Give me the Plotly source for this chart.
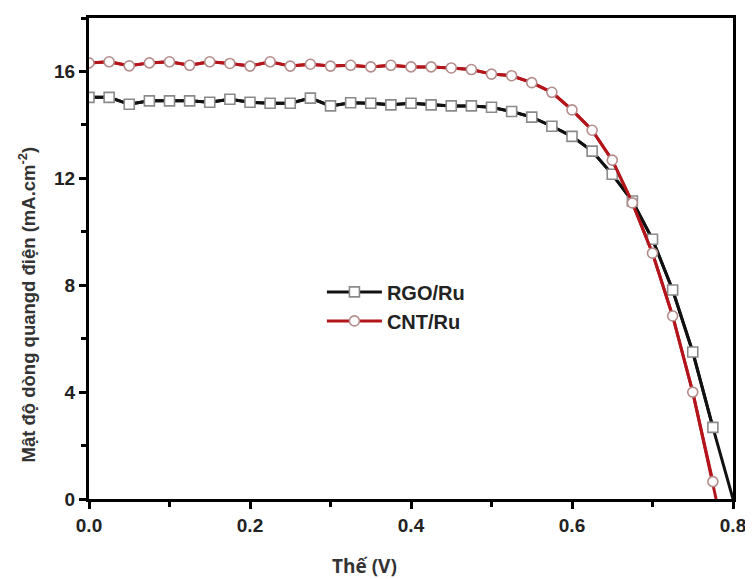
import plotly.graph_objects as go

# Voltage (V)
voltage = [0.0, 0.025, 0.05, 0.075, 0.1, 0.125, 0.15, 0.175, 0.2, 0.225, 0.25, 0.275,
           0.3, 0.325, 0.35, 0.375, 0.4, 0.425, 0.45, 0.475, 0.5, 0.525, 0.55, 0.575,
           0.6, 0.625, 0.65, 0.675, 0.7, 0.725, 0.75, 0.775]

# Photocurrent density (mA.cm-2)
rgo_ru = [15.03, 15.03, 14.77, 14.9, 14.9, 14.9, 14.85, 14.96, 14.85, 14.81, 14.81, 15.0,
          14.71, 14.83, 14.81, 14.75, 14.81, 14.75, 14.71, 14.71, 14.66, 14.5, 14.29, 13.95,
          13.57, 13.02, 12.15, 11.15, 9.72, 7.82, 5.5, 2.68]
cnt_ru = [16.32, 16.36, 16.21, 16.32, 16.36, 16.23, 16.36, 16.3, 16.2, 16.36, 16.2, 16.27,
          16.2, 16.23, 16.17, 16.23, 16.17, 16.17, 16.13, 16.07, 15.9, 15.84, 15.58, 15.22,
          14.56, 13.8, 12.68, 11.08, 9.2, 6.85, 4.0, 0.65]

# Curve end points (short-circuit to zero current)
rgo_end = (0.8, 0.0)
cnt_end = (0.779, 0.0)

x_ticks = [0.0, 0.2, 0.4, 0.6, 0.8]
x_tick_labels = ["0.0", "0.2", "0.4", "0.6", "0.8"]
y_ticks = [0, 4, 8, 12, 16]
y_tick_labels = ["0", "4", "8", "12", "16"]

fig = go.Figure()

series = [
    ("RGO/Ru", rgo_ru, rgo_end, "#111111", "square", "#8a8a8a"),
    ("CNT/Ru", cnt_ru, cnt_end, "#b3151b", "circle", "#b58c8c"),
]
for name, ys, end, col, sym, mcol in series:
    fig.add_trace(go.Scatter(
        x=voltage + [end[0]], y=ys + [end[1]], mode="lines",
        line=dict(color=col, width=3), showlegend=False, hoverinfo="skip"))
for name, ys, end, col, sym, mcol in series:
    fig.add_trace(go.Scatter(
        x=voltage, y=ys, mode="lines+markers", name=name,
        line=dict(color=col, width=3),
        marker=dict(symbol=sym, size=10, color="white", line=dict(color=mcol, width=1.6))))

tick_font = dict(family="Liberation Sans, Arial", size=19, color="#222222", weight="bold")
axis_common = dict(showline=True, linewidth=3, linecolor="black", mirror=True,
                   ticks="outside", tickwidth=3, ticklen=7, tickcolor="black",
                   showgrid=False, zeroline=False, tickfont=tick_font)

fig.update_xaxes(range=[0, 0.8], tickvals=x_ticks, ticktext=x_tick_labels,
                 minor=dict(ticks="outside", ticklen=5, tickwidth=3, tickcolor="black", dtick=0.1, tick0=0),
                 **axis_common)
fig.update_yaxes(range=[0, 18], tickvals=y_ticks, ticktext=y_tick_labels,
                 minor=dict(ticks="outside", ticklen=5, tickwidth=3, tickcolor="black", dtick=2, tick0=0),
                 **axis_common)

# page body has an 8px margin: figure origin sits at (8, 8) in the window
OX, OY = 8, 8
L, R, T, B = 89 - OX, 736 - OX, 15 - OY, 499 - OY
W, H = 745, 571
PW, PH = R - L, B - T

fig.add_annotation(text="Thế (V)", xref="paper", yref="paper",
                   x=(366 - OX - L) / PW, y=-(566 - OY - B) / PH, showarrow=False,
                   xanchor="center", yanchor="middle",
                   font=dict(family="Open Sans, Liberation Sans", size=19, color="#333333", weight="bold"))
fig.add_annotation(text="Mật độ dòng quangd điện (mA.cm<sup>-2</sup>)", xref="paper", yref="paper",
                   x=-(L - (27 - OX)) / PW, y=(B - (303 - OY)) / PH, showarrow=False, textangle=-90,
                   xanchor="center", yanchor="middle",
                   font=dict(family="Liberation Sans, Arial", size=18.5, color="#333333", weight="bold"))

fig.update_layout(
    width=W, height=H,
    margin=dict(l=L, r=W - R, t=T, b=H - B),
    paper_bgcolor="white", plot_bgcolor="white",
    legend=dict(x=(323 - OX - L) / PW, y=(B - (271 - OY)) / PH, xanchor="left", yanchor="top",
                bgcolor="rgba(0,0,0,0)",
                font=dict(family="Liberation Sans, Arial", size=20, color="#222222", weight="bold"),
                itemwidth=55, tracegroupgap=0),
)

fig.write_html("out.html")
